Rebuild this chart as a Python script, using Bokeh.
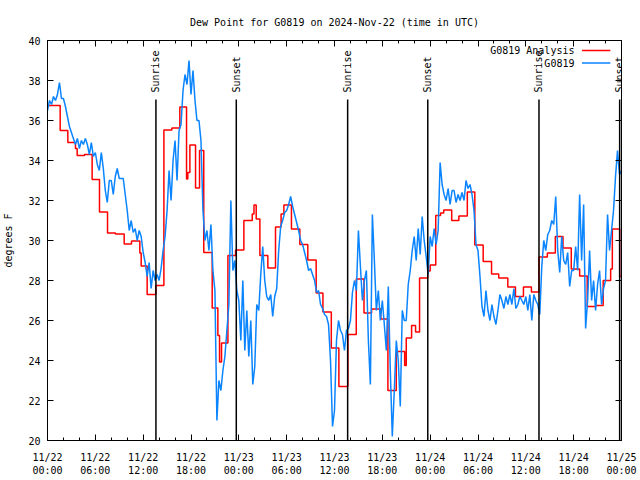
import math
from bokeh.plotting import figure
from bokeh.models import FixedTicker, LinearAxis, Range1d
from bokeh.core.properties import value
from bokeh.embed import file_html
from bokeh.resources import INLINE

FONT = "DejaVu Sans Mono"

# ---- data (hours since 2024-11-22 00:00 UTC) ----
# observed dew point (F), one value every 15 minutes
obs_step_hours = 0.25
obs_dewpoint = [
    36.5, 37.0, 36.8, 37.2,   # 0
    37.0, 37.3, 37.9, 37.1,   # 1
    37.1, 36.7, 36.2, 35.7,   # 2
    35.4, 35.1, 34.8, 35.1,   # 3
    34.6, 35.0, 34.8, 35.1,   # 4
    34.8, 34.3, 34.9, 34.2,   # 5
    34.4, 33.8, 33.5, 34.4,   # 6
    33.6, 32.5, 31.9, 33.0,   # 7
    33.0, 32.3, 33.2, 33.6,   # 8
    33.1, 33.1, 33.1, 32.3,   # 9
    31.5, 30.5, 31.0, 30.4,   # 10
    30.6, 30.0, 30.5, 30.2,   # 11
    29.4, 28.9, 28.2, 28.9,   # 12
    27.6, 28.5, 28.0, 28.3,   # 13
    28.0, 28.6, 29.5, 30.2,   # 14
    31.5, 33.5, 32.0, 34.0,   # 15
    35.0, 33.0, 35.5, 35.8,   # 16
    37.5, 38.3, 37.8, 39.0,   # 17
    37.3, 38.5, 37.0, 36.0,   # 18
    36.0, 35.0, 31.5, 30.0,   # 19
    30.5, 29.5, 30.8, 28.5,   # 20
    27.5, 21.0, 23.0, 22.5,   # 21
    23.5, 24.2, 25.5, 26.8,   # 22
    32.0, 28.5, 29.0, 27.5,   # 23
    27.0, 25.0, 28.0, 24.5,   # 24
    26.5, 24.2, 26.0, 22.8,   # 25
    23.7, 26.8, 26.5, 28.3,   # 26
    29.7, 28.0, 27.2, 27.0,   # 27
    27.3, 26.2, 27.2, 27.6,   # 28
    29.5, 30.7, 31.0, 31.4,   # 29
    31.5, 31.8, 32.2, 31.7,   # 30
    31.3, 30.9, 30.5, 30.0,   # 31
    29.8, 29.4, 29.0, 28.5,   # 32
    28.6, 28.3, 28.0, 27.4,   # 33
    27.5, 26.8, 26.6, 26.3,   # 34
    26.2, 25.8, 24.0, 20.7,   # 35
    21.5, 25.0, 26.0, 25.5,   # 36
    25.3, 24.5, 25.5, 25.6,   # 37
    26.0, 27.4, 28.0, 27.5,   # 38
    30.5, 28.7, 27.0, 28.0,   # 39
    28.5, 25.0, 22.8, 31.3,   # 40
    29.0, 26.5, 27.5, 26.0,   # 41
    27.0, 25.8, 24.5, 27.7,   # 42
    23.5, 20.2, 22.5, 25.0,   # 43
    24.0, 21.7, 26.5, 26.0,   # 44
    26.0, 27.8, 28.5, 29.5,   # 45
    30.2, 29.0, 30.6, 29.3,   # 46
    31.2, 30.0, 29.2, 28.3,   # 47
    30.2, 29.7, 30.6, 29.8,   # 48
    30.5, 33.9, 32.8, 32.3,   # 49
    32.0, 32.6, 31.8, 32.5,   # 50
    32.5, 31.9, 32.3, 32.0,   # 51
    32.4, 32.0, 33.0, 32.6,   # 52
    32.8, 32.3, 31.5, 29.8,   # 53
    29.5, 28.2, 26.7, 26.2,   # 54
    27.5, 26.5, 26.0, 26.8,   # 55
    26.2, 25.8, 26.5, 27.3,   # 56
    27.0, 26.6, 27.2, 26.8,   # 57
    27.3, 26.8, 27.6, 26.6,   # 58
    26.8, 27.2, 27.0, 26.8,   # 59
    27.2, 26.5, 27.3, 26.0,   # 60
    27.3, 27.0, 26.8, 26.3,   # 61
    28.7, 30.0, 29.5, 30.3,   # 62
    30.5, 31.0, 30.8, 32.2,   # 63
    29.5, 28.4, 30.2, 29.0,   # 64
    28.8, 29.4, 27.7, 28.5,   # 65
    28.5, 29.7, 28.5, 32.3,   # 66
    29.0, 31.8, 25.6, 27.0,   # 67
    29.5, 27.0, 28.0, 26.5,   # 68
    27.8, 28.5, 26.8, 27.6,   # 69
    28.0, 31.3, 29.5, 30.5,   # 70
    31.5, 33.2, 34.5, 33.3,   # 71
    33.5,                     # 72
]
obs_hours = [i * obs_step_hours for i in range(len(obs_dewpoint))]

# analysis dew point (F), step changes
analysis_hours = [
    0.0, 1.59, 2.55, 3.51, 3.72, 4.64, 5.6, 6.52, 7.53, 8.53, 9.62, 10.54,
    11.58, 11.75, 12.5, 13.6, 14.6, 15.6, 16.6, 17.44, 17.6, 17.86, 18.57,
    19.07, 19.6, 20.66, 21.37, 21.58, 21.83, 22.63, 23.59, 24.63, 25.68,
    25.9, 26.18, 26.64, 27.64, 28.6, 29.3, 29.65, 30.6, 31.65, 32.65, 33.7,
    34.55, 35.6, 36.55, 37.68, 38.73, 39.7, 40.65, 41.8, 42.7, 43.75, 44.8,
    45.0, 45.67, 46.17, 46.67, 47.7, 48.0, 48.7, 49.3, 49.7, 50.7, 51.6,
    52.66, 53.6, 54.65, 55.7, 56.6, 57.74, 58.7, 59.7, 60.7, 61.65, 62.7,
    63.7, 64.66, 65.7, 66.75, 67.7, 68.76, 69.7, 70.64, 70.85, 71.77, 72.0,
]
analysis_dewpoint = [
    36.75, 35.5, 34.9, 34.6, 34.25, 34.3, 33.05, 31.42, 30.38, 30.33, 29.83,
    29.97, 29.37, 28.73, 27.3, 27.75, 35.53, 35.62, 36.67, 33.08, 33.4, 34.78,
    32.63, 34.5, 29.4, 26.62, 25.25, 23.92, 24.87, 29.25, 29.53, 31.0, 31.33,
    31.78, 31.08, 29.25, 28.63, 30.67, 31.33, 31.78, 30.58, 29.8, 29.03,
    27.38, 26.42, 24.63, 22.7, 25.3, 28.08, 26.37, 26.58, 26.08, 22.5, 24.45,
    23.75, 25.13, 25.75, 25.42, 28.12, 28.47, 28.78, 31.25, 31.37, 31.53,
    31.0, 31.22, 32.42, 29.78, 28.95, 28.33, 28.13, 27.67, 27.2, 27.67,
    27.42, 29.17, 29.38, 30.2, 29.63, 28.58, 28.22, 26.7, 26.75, 28.0, 28.58,
    30.58, 28.2, 28.2,
]

sunrise_hours = [13.6, 37.65, 61.65]
sunset_hours = [23.68, 47.7, 71.77]

x_tick_hours = [0, 6, 12, 18, 24, 30, 36, 42, 48, 54, 60, 66, 72]
x_tick_labels = ["11/22\n00:00", "11/22\n06:00", "11/22\n12:00", "11/22\n18:00",
                 "11/23\n00:00", "11/23\n06:00", "11/23\n12:00", "11/23\n18:00",
                 "11/24\n00:00", "11/24\n06:00", "11/24\n12:00", "11/24\n18:00",
                 "11/25\n00:00"]
y_ticks = [20, 22, 24, 26, 28, 30, 32, 34, 36, 38, 40]

series_names = ["G0819 Analysis", "G0819"]
series_colors = ["#ff0000", "#0a84ff"]

# ---- figure ----
p = figure(width=640, height=480, x_range=Range1d(0, 72), y_range=Range1d(20, 40),
           output_backend="svg", toolbar_location=None,
           min_border_left=47, min_border_right=19, min_border_top=40, min_border_bottom=40)
p.title.text = "Dew Point for G0819 on 2024-Nov-22 (time in UTC)"
p.title.align = "center"
p.title.text_font = FONT
p.title.text_font_size = "10px"
p.title.text_font_style = "normal"
p.title.text_color = "black"
p.title.standoff = 25
p.xgrid.visible = False
p.ygrid.visible = False
p.outline_line_color = "black"
p.outline_line_width = 1
p.background_fill_color = "white"
p.border_fill_color = "white"

xt = FixedTicker(ticks=x_tick_hours, minor_ticks=list(range(0, 73, 2)))
yt = FixedTicker(ticks=y_ticks, minor_ticks=[])

xa = p.xaxis[0]
xa.ticker = xt
xa.major_label_overrides = {h: lab for h, lab in zip(x_tick_hours, x_tick_labels)}
ya = p.yaxis[0]
ya.ticker = yt
ya.axis_label = "degrees F"
ya.axis_label_standoff = 11

for ax in (xa, ya):
    ax.major_tick_in = 6
    ax.major_tick_out = 0
    ax.minor_tick_in = 3
    ax.minor_tick_out = 0
    ax.major_label_text_font = FONT
    ax.major_label_text_font_size = "10px"
    ax.major_label_text_color = "black"
    ax.axis_label_text_font = FONT
    ax.axis_label_text_font_size = "10px"
    ax.axis_label_text_font_style = "normal"
    ax.axis_label_text_color = "black"
    ax.axis_line_color = "black"
    ax.major_tick_line_color = "black"
    ax.minor_tick_line_color = "black"
xa.major_label_standoff = 11
ya.major_label_standoff = 7

top = LinearAxis(ticker=xt)
right = LinearAxis(ticker=yt)
for ax in (top, right):
    ax.major_tick_in = 6
    ax.major_tick_out = 0
    ax.minor_tick_in = 3
    ax.minor_tick_out = 0
    ax.major_label_text_font_size = "0px"
    ax.major_label_text_color = None
    ax.major_label_standoff = 0
    ax.axis_line_color = "black"
p.add_layout(top, "above")
p.add_layout(right, "right")

# data
p.step(analysis_hours, analysis_dewpoint, mode="after", line_color=series_colors[0], line_width=1.5)
p.line(obs_hours, obs_dewpoint, line_color=series_colors[1], line_width=1.5)

# sunrise / sunset markers
sun_hours = sunrise_hours + sunset_hours
sun_labels = ["Sunrise"] * len(sunrise_hours) + ["Sunset"] * len(sunset_hours)
p.segment(x0=sun_hours, y0=[20] * len(sun_hours), x1=sun_hours, y1=[37.05] * len(sun_hours),
          line_color="black", line_width=1.5)
p.text(x=sun_hours, y=[37.4] * len(sun_hours), text=sun_labels, angle=math.pi / 2,
       text_align="left", text_baseline="middle", text_font=value(FONT),
       text_font_size="10px", text_color="black")

# legend (gnuplot style: label then line sample)
leg_y = [39.5, 38.87]
p.text(x=[66.1, 66.1], y=leg_y, text=series_names, text_align="right", text_baseline="middle",
       text_font=value(FONT), text_font_size="10px", text_color="black")
for yy, col in zip(leg_y, series_colors):
    p.line([67.05, 70.6], [yy, yy], line_color=col, line_width=1.5)

open("out.html", "w").write(file_html(p, INLINE))
